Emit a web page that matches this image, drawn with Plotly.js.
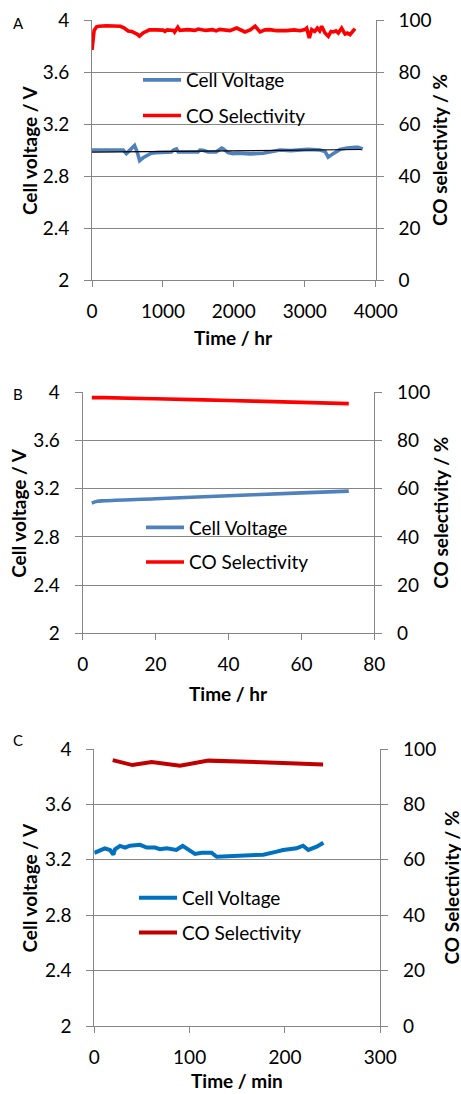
<!DOCTYPE html>
<html><head><meta charset="utf-8">
<script src="https://cdn.plot.ly/plotly-3.0.1.min.js"></script>
<style>html,body{margin:0;padding:0;background:#fff}#chart{width:461px;height:1094px}</style>
</head><body><div id="chart"></div>
<script>
// ---------- Panel A ----------
const timeA_volt = [0,100,200,300,440,485,520,600,640,672,720,766,836,900,1025,1120,1150,1190,1215,1350,1495,1523,1565,1636,1750,1829,1847,1918,1990,2059,2228,2413,2550,2651,2800,2935,3050,3215,3287,3330,3380,3400,3497,3520,3600,3708,3752,3817];
const voltA =      [3.0,3.0,3.0,3.0,3.0,2.972,2.99,3.035,2.98,2.918,2.94,2.955,2.975,2.98,2.985,2.985,3.0,3.008,2.985,2.985,2.985,3.0,2.998,2.985,2.985,3.015,3.01,2.98,2.972,2.975,2.97,2.975,2.99,3.0,2.995,3.0,3.005,3.0,2.988,2.945,2.968,2.972,3.005,3.008,3.015,3.02,3.02,3.008];
const timeA_trend = [0, 3800];
const voltA_trend = [2.983, 3.004];
const timeA_sel = [0,30,65,100,200,300,400,450,510,560,600,640,670,720,765,810,900,1000,1030,1060,1150,1165,1210,1240,1350,1450,1500,1600,1700,1750,1800,1900,1945,2040,2157,2230,2300,2370,2440,2510,2600,2745,2850,2933,3000,3027,3064,3098,3140,3177,3210,3238,3285,3332,3370,3403,3440,3473,3520,3567,3600,3638,3708];
const selA =      [88.5,96.0,97.4,97.6,97.8,97.6,97.6,97.0,95.8,95.6,95.2,94.5,93.8,95.0,95.6,96.2,96.2,96.1,95.6,96.2,96.0,95.4,97.2,96.0,96.3,96.0,96.5,96.0,96.3,95.8,96.4,96.0,95.9,96.9,95.4,96.2,97.6,95.4,96.2,96.3,95.9,95.9,96.2,95.9,96.3,96.9,93.1,96.3,95.6,96.9,95.8,97.6,95.0,93.7,95.6,95.4,95.8,95.0,96.9,94.6,95.0,94.4,96.7];

// ---------- Panel B ----------
const timeB = [2.5,4,6,20,40,60,73];
const voltB = [3.08,3.095,3.10,3.117,3.141,3.165,3.18];
const selB  = [97.8,97.8,97.8,97.3,96.6,95.8,95.3];

// ---------- Panel C ----------
const timeC_volt = [0,11,16.5,20,21.7,27,32.2,37.4,48,55,63.7,68.9,76,86,92.7,98.6,105.6,112.6,123,128.4,149.4,177.3,191.3,198,212,219,224.5,233.3,240.3];
const voltC = [3.25,3.283,3.271,3.238,3.276,3.30,3.288,3.302,3.308,3.288,3.288,3.276,3.283,3.271,3.30,3.271,3.242,3.251,3.251,3.222,3.229,3.237,3.259,3.271,3.283,3.302,3.271,3.295,3.323];
const timeC_sel = [19.3,40,60.2,89.9,119.6,175,205,240];
const selC = [96.0,94.2,95.3,94.0,95.8,95.4,94.9,94.4];

// ---------- Labels ----------
const leftTicks = [2,2.4,2.8,3.2,3.6,4];
const leftTickText = ['2','2.4','2.8','3.2','3.6','4'];
const rightTicks = [0,20,40,60,80,100];
const rightTickText = ['0','20','40','60','80','100'];
const xTicksA = [0,1000,2000,3000,4000];
const xTicksB = [0,20,40,60,80];
const xTicksC = [0,100,200,300];
const seriesNames = ['Cell Voltage','CO Selectivity'];
const panelLabels = ['A','B','C'];
const yTitleLeft = 'Cell voltage / V';
const yTitleRightAB = 'CO selectivity / %';
const yTitleRightC = 'CO Selectivity / %';
const xTitleAB = 'Time / hr';
const xTitleC = 'Time / min';

const W = 461, H = 1094;
const px = v => v / W;
const py = v => 1 - v / H;
const FONT = 'Lato, "Open Sans", sans-serif';
const GRAY = '#868686';
const tickFont = {family: FONT, size: 19, color: '#000'};

const blueAB = '#4F81BD', redAB = '#FF0000';
const blueC = '#0070C0', redC = '#C00000';

const traces = [
  {x: timeA_volt, y: voltA, xaxis:'x', yaxis:'y', mode:'lines', name: seriesNames[0], line:{color:blueAB, width:3.6}, legend:'legend', legendgroup:'a1'},
  {x: timeA_trend, y: voltA_trend, xaxis:'x', yaxis:'y', mode:'lines', line:{color:'#000', width:1.2}, showlegend:false},
  {x: timeA_sel, y: selA, xaxis:'x', yaxis:'y2', mode:'lines', name: seriesNames[1], line:{color:redAB, width:3.6}, legend:'legend', legendgroup:'a2'},
  {x: timeB, y: voltB, xaxis:'x2', yaxis:'y3', mode:'lines', name: seriesNames[0], line:{color:blueAB, width:3.6, shape:'spline'}, legend:'legend2', legendgroup:'b1'},
  {x: timeB, y: selB, xaxis:'x2', yaxis:'y4', mode:'lines', name: seriesNames[1], line:{color:redAB, width:3.6, shape:'spline'}, legend:'legend2', legendgroup:'b2'},
  {x: timeC_volt, y: voltC, xaxis:'x3', yaxis:'y5', mode:'lines', name: seriesNames[0], line:{color:blueC, width:4}, legend:'legend3', legendgroup:'c1'},
  {x: timeC_sel, y: selC, xaxis:'x3', yaxis:'y6', mode:'lines', name: seriesNames[1], line:{color:redC, width:4}, legend:'legend3', legendgroup:'c2'}
];

function xAxis(domain, range, ticks, anchor) {
  return {domain, range, anchor, tickvals: ticks, ticktext: ticks.map(String), tickmode:'array',
    showgrid:false, zeroline:false, showline:true, linecolor:GRAY, linewidth:1,
    ticks:'outside', ticklen:6, tickcolor:GRAY, tickfont: tickFont, ticklabelstandoff: 8, fixedrange:true};
}
function yLeft(domain, anchor) {
  return {domain, range:[2,4], anchor, tickmode:'array', tickvals: leftTicks, ticktext: leftTickText,
    showgrid:true, gridcolor:GRAY, gridwidth:1, zeroline:false, showline:true, linecolor:GRAY,
    ticks:'outside', ticklen:7, tickcolor:GRAY, tickfont: tickFont, ticklabelstandoff: 11, fixedrange:true};
}
function yRight(overlay, anchor) {
  return {overlaying: overlay, side:'right', anchor, range:[0,100], tickmode:'array', tickvals: rightTicks, ticktext: rightTickText,
    showgrid:false, zeroline:false, showline:true, linecolor:GRAY,
    ticks:'outside', ticklen:7, tickcolor:GRAY, tickfont: tickFont, ticklabelstandoff: 11, fixedrange:true};
}

const A = {x0:92, x1:375.7, y0:20, y1:280};
const B = {x0:82.7, x1:374.3, y0:392.3, y1:633.3};
const C = {x0:94.3, x1:380.3, y0:749, y1:1026};

function ann(text, x, y, opts) {
  return Object.assign({text, x: px(x), y: py(y), xref:'paper', yref:'paper', showarrow:false,
    xanchor:'center', yanchor:'middle', font:{family:FONT, size:19, color:'#000'}}, opts||{});
}
const boldFont = {family:FONT, size:19, color:'#000', weight:'bold'};
const lblFont = {family:FONT, size:15, color:'#000'};

const legendBase = {xanchor:'left', yanchor:'top', bgcolor:'rgba(0,0,0,0)', borderwidth:0,
  font:{family:FONT, size:19, color:'#000'}, itemwidth:38, tracegroupgap:8, traceorder:'grouped', itemclick:false, itemdoubleclick:false};

const layout = {
  width: W, height: H, margin:{l:0,r:0,t:0,b:0}, paper_bgcolor:'#fff', plot_bgcolor:'rgba(0,0,0,0)',
  xaxis: xAxis([px(A.x0), px(A.x1)], [0,4000], xTicksA, 'y'),
  yaxis: yLeft([py(A.y1), py(A.y0)], 'x'),
  yaxis2: yRight('y', 'x'),
  xaxis2: xAxis([px(B.x0), px(B.x1)], [0,80], xTicksB, 'y3'),
  yaxis3: yLeft([py(B.y1), py(B.y0)], 'x2'),
  yaxis4: yRight('y3', 'x2'),
  xaxis3: xAxis([px(C.x0), px(C.x1)], [0,300], xTicksC, 'y5'),
  yaxis5: yLeft([py(C.y1), py(C.y0)], 'x3'),
  yaxis6: yRight('y5', 'x3'),
  legend: Object.assign({}, legendBase, {x: px(138), y: py(61)}),
  legend2: Object.assign({}, legendBase, {x: px(141), y: py(508.5), tracegroupgap:7}),
  legend3: Object.assign({}, legendBase, {x: px(134), y: py(879), tracegroupgap:7}),
  showlegend: true,
  annotations: [
    ann(panelLabels[0], 18.3, 23, {font: lblFont}),
    ann(panelLabels[1], 18, 393.5, {font: lblFont}),
    ann(panelLabels[2], 17.5, 740, {font: lblFont}),
    ann(yTitleLeft, 29, (A.y0+A.y1)/2, {textangle:-90, font: boldFont}),
    ann(yTitleRightAB, 439, (A.y0+A.y1)/2, {textangle:-90, font: boldFont}),
    ann(xTitleAB, (A.x0+A.x1)/2, 338, {font: boldFont}),
    ann(yTitleLeft, 19, (B.y0+B.y1)/2, {textangle:-90, font: boldFont}),
    ann(yTitleRightAB, 441, (B.y0+B.y1)/2, {textangle:-90, font: boldFont}),
    ann(xTitleAB, (B.x0+B.x1)/2, 693, {font: boldFont}),
    ann(yTitleLeft, 29, (C.y0+C.y1)/2, {textangle:-90, font: boldFont}),
    ann(yTitleRightC, 451, (C.y0+C.y1)/2, {textangle:-90, font: boldFont}),
    ann(xTitleC, (C.x0+C.x1)/2, 1093.5, {font: boldFont, yanchor:'bottom'})
  ]
};

Plotly.newPlot('chart', traces, layout, {staticPlot:true, displayModeBar:false});
</script>
</body></html>
